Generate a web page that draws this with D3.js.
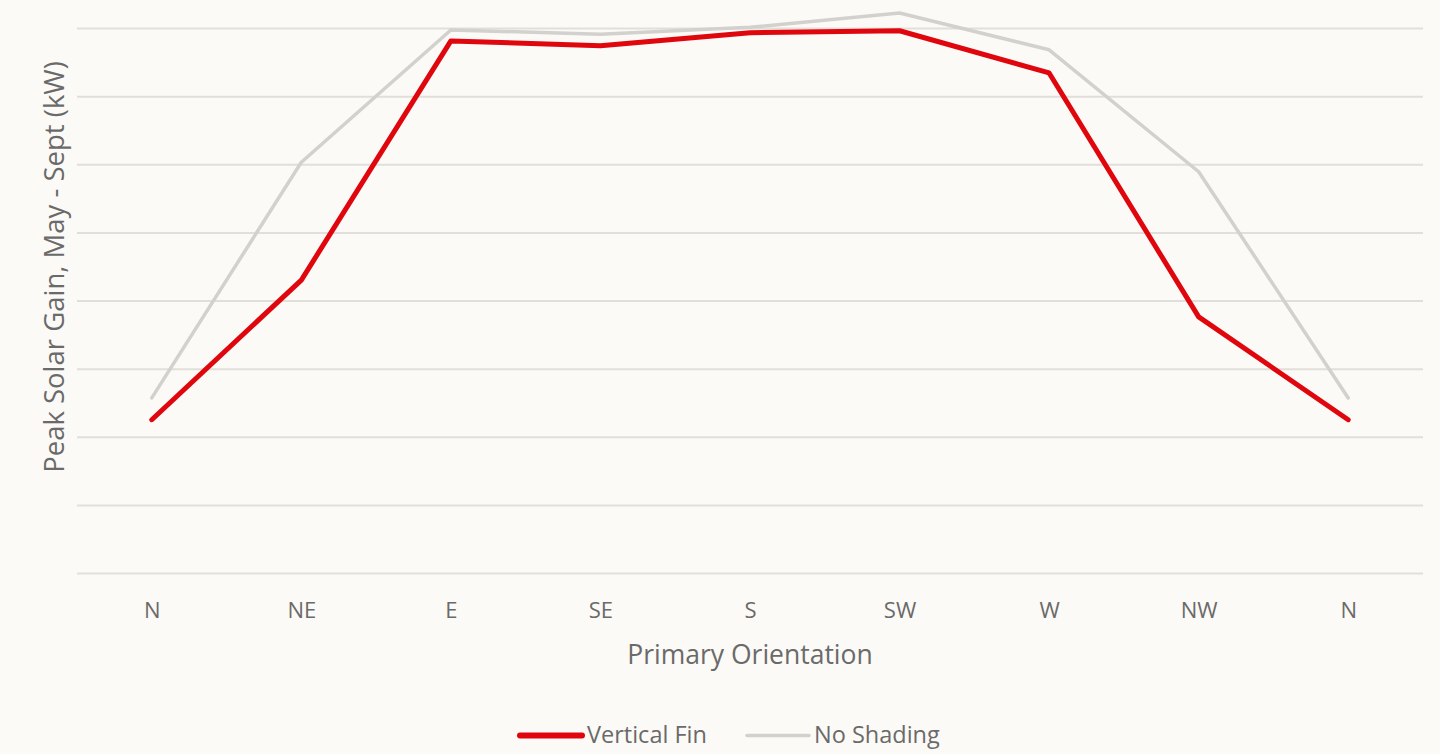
<!DOCTYPE html>
<html>
<head>
<meta charset="utf-8">
<script src="https://cdn.jsdelivr.net/npm/d3@7"></script>
<style>
  html, body { margin: 0; padding: 0; background: #fcfaf6; }
  svg { display: block; }
  text { font-family: "Open Sans", sans-serif; fill: #6a6a6a; }
</style>
</head>
<body>
<svg id="chart" width="1440" height="754"></svg>
<script>
// Orientation categories along the x axis
const orientations = ["N", "NE", "E", "SE", "S", "SW", "W", "NW", "N "];
const orientationLabels = ["N", "NE", "E", "SE", "S", "SW", "W", "NW", "N"];

// Peak solar gain per orientation, May - Sept (kW)
const verticalFin = [2.25, 4.30, 7.81, 7.74, 7.93, 7.96, 7.34, 3.76, 2.25];
const noShading   = [2.57, 6.03, 7.97, 7.91, 8.01, 8.22, 7.68, 5.89, 2.57];

// Gridline values on the y axis (labels are not displayed)
const yTicks = [0, 1, 2, 3, 4, 5, 6, 7, 8];

const seriesNames = ["Vertical Fin", "No Shading"];

const svg = d3.select("#chart");
const margin = { left: 77, right: 17, top: 28, bottom: 181 };
const W = 1440, H = 754;

const x = d3.scalePoint()
  .domain(orientations)
  .range([margin.left, W - margin.right])
  .padding(0.5);

const y = d3.scaleLinear()
  .domain([0, 8])
  .range([H - margin.bottom, margin.top]);

// Horizontal gridlines
const grid = d3.axisLeft(y)
  .tickValues(yTicks)
  .tickSize(-(W - margin.left - margin.right))
  .tickFormat("");
svg.append("g")
  .attr("transform", `translate(${margin.left},0)`)
  .call(grid)
  .call(g => g.select(".domain").remove())
  .call(g => g.selectAll("line").attr("stroke", "#e2dfda").attr("stroke-width", 2));

// Category axis labels
const xAxis = d3.axisBottom(x)
  .tickSize(0)
  .tickPadding(0)
  .tickFormat((d, i) => orientationLabels[i]);
svg.append("g")
  .attr("transform", `translate(0,${H - margin.bottom})`)
  .call(xAxis)
  .call(g => g.select(".domain").remove())
  .call(g => g.selectAll("text")
    .attr("dy", null)
    .attr("y", 45)
    .style("font-size", "22px")
    .style("font-family", "'Open Sans', sans-serif")
    .attr("fill", "#6a6a6a"));

// Axis titles
svg.append("text")
  .attr("x", 750)
  .attr("y", 664)
  .attr("text-anchor", "middle")
  .style("font-size", "26.5px")
  .text("Primary Orientation");

svg.append("text")
  .attr("transform", "translate(64,267) rotate(-90)")
  .attr("text-anchor", "middle")
  .style("font-size", "27.5px")
  .text("Peak Solar Gain, May - Sept (kW)");

// Series lines
const line = d3.line()
  .x((d, i) => x(orientations[i]))
  .y(d => y(d));

svg.append("path")
  .datum(noShading)
  .attr("fill", "none")
  .attr("stroke", "#d2d1ce")
  .attr("stroke-width", 3.5)
  .attr("stroke-linejoin", "round")
  .attr("stroke-linecap", "round")
  .attr("d", line);

svg.append("path")
  .datum(verticalFin)
  .attr("fill", "none")
  .attr("stroke", "#e0060e")
  .attr("stroke-width", 5)
  .attr("stroke-linejoin", "round")
  .attr("stroke-linecap", "round")
  .attr("d", line);

// Legend
const legendItems = [
  { name: seriesNames[0], color: "#e0060e", width: 6, x0: 520 },
  { name: seriesNames[1], color: "#d2d1ce", width: 3.5, x0: 747 }
];
const legend = svg.append("g");
legendItems.forEach(item => {
  legend.append("line")
    .attr("x1", item.x0).attr("x2", item.x0 + 62)
    .attr("y1", 735.5).attr("y2", 735.5)
    .attr("stroke", item.color)
    .attr("stroke-width", item.width)
    .attr("stroke-linecap", "round");
  legend.append("text")
    .attr("x", item.x0 + 67)
    .attr("y", 743)
    .style("font-size", "23.5px")
    .text(item.name);
});
</script>
</body>
</html>
